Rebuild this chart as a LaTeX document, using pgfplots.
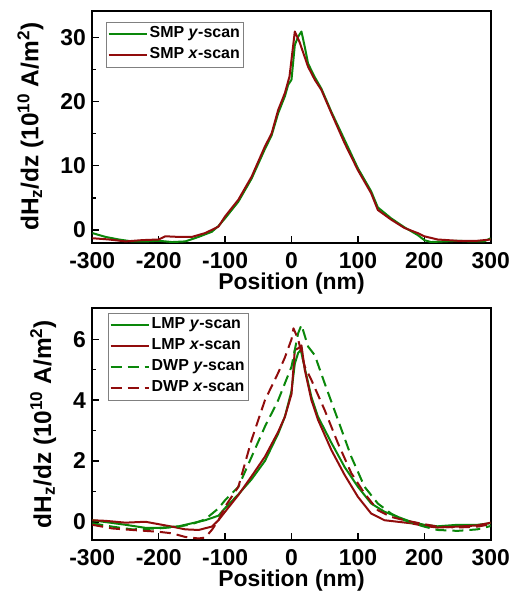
\documentclass[border=0pt]{standalone}
\usepackage{fontspec}
\setmainfont{Liberation Sans}
\usepackage{pgfplots}
\pgfplotsset{compat=1.18}
\definecolor{cgreen}{RGB}{10,135,10}
\definecolor{cred}{RGB}{145,12,12}
\pgfplotsset{mystyle/.style={
  scale only axis, width=398.4bp, height=231.7bp,
  xmin=-300, xmax=300, xtick={-300,-200,...,300},
  xticklabels={-300,-200,-100,0,100,200,300},
  axis line style={line width=2bp},
  tick style={line width=1.5bp, black},
  major tick length=7bp, minor tick length=4bp,
  tick align=inside, xtick pos=bottom, ytick pos=left,
  minor y tick num=1,
  /pgf/number format/assume math mode=true,
  ticklabel style={font=\fontsize{23}{23}\selectfont\bfseries},
  xticklabel style={yshift=-6bp},
  yticklabel style={xshift=-3bp},
  xlabel style={font=\fontsize{23}{23}\selectfont\bfseries, yshift=0bp, inner sep=0.5bp},
  ylabel style={font=\fontsize{24.5}{24.5}\selectfont\bfseries, yshift=10bp},
  xlabel={Position (nm)},
  ylabel={dH\textsubscript{z}/dz (10\textsuperscript{10} A/m\textsuperscript{2})},
  legend cell align=left,
  legend style={draw=gray, line width=0.8bp, font=\fontsize{16}{19}\selectfont\bfseries, inner sep=1.5bp, row sep=0bp,
    nodes={text height=12bp, text depth=5bp}},
  legend image code/.code={\draw[##1] (0bp,0bp) -- (38bp,0bp);},
  every axis plot/.append style={line width=2bp, line join=round},
}}
\begin{document}
\begin{tikzpicture}
\path[use as bounding box] (-92.3bp,-51bp) rectangle (420.7bp,540bp);
% top panel
\begin{axis}[mystyle, at={(0,297.3bp)}, anchor=south west,
  ymin=-2, ymax=34.1, ytick={0,10,20,30},
  legend style={at={(0.034,0.954)}, anchor=north west}]
\addplot[cgreen] coordinates {
(-300,-0.5) (-280,-1.1) (-260,-1.5) (-240,-1.8) (-220,-1.8) (-200,-1.7) (-180,-1.9) (-160,-1.8)
(-140,-1.1) (-120,-0.3) (-110,0.6) (-100,1.8) (-80,4.4) (-60,8.0) (-40,12.6) (-30,14.7)
(-20,18.2) (-10,20.8) (-5,22.6) (0,23.4) (5,28.8) (10,30.1) (15,30.9) (20,28.5) (25,25.9)
(35,23.8) (45,22) (60,18.4) (80,14) (100,9.6) (120,6) (130,3.5) (150,1.8) (170,0.4)
(190,-0.8) (200,-1.6) (210,-1.9) (230,-1.8) (250,-1.7) (270,-1.8) (290,-1.8) (300,-1.3)};
\addlegendentry{SMP \textit{y}-scan}
\addplot[cred] coordinates {
(-300,-1.3) (-275,-1.5) (-250,-1.8) (-225,-1.6) (-200,-1.5) (-190,-1.0) (-170,-1.1) (-150,-1.1)
(-130,-0.5) (-110,0.5) (-100,2.1) (-80,4.7) (-60,8.3) (-40,13) (-30,15) (-20,18.7)
(-10,21.3) (-3,23.9) (5,30.9) (12,29.3) (25,25.4) (35,23.4) (45,21.8) (60,18.2) (80,13.5)
(100,9.3) (120,5.7) (130,3.1) (150,1.6) (170,0.3) (190,-0.5) (200,-1.0) (220,-1.5)
(250,-1.7) (280,-1.7) (300,-1.5)};
\addlegendentry{SMP \textit{x}-scan}
\end{axis}
% bottom panel
\begin{axis}[mystyle, at={(0,0)}, anchor=south west,
  ymin=-0.6, ymax=7.02, ytick={0,2,4,6},
  legend style={at={(0.039,0.98)}, anchor=north west}]
\addplot[cgreen] coordinates {
(-300,0.05) (-250,-0.1) (-220,-0.2) (-200,-0.2) (-170,-0.15) (-150,-0.05) (-130,0.05)
(-110,0.2) (-100,0.45) (-80,0.9) (-60,1.4) (-40,2.0) (-20,2.9) (-10,3.45) (0,4.3) (5,5.2)
(10,5.55) (14,5.65) (20,5.05) (30,4.1) (40,3.45) (60,2.6) (80,1.8) (100,1.15) (120,0.6)
(140,0.33) (160,0.16) (180,0) (200,-0.1) (220,-0.15) (250,-0.1) (280,-0.1) (300,-0.05)};
\addlegendentry{LMP \textit{y}-scan}
\addplot[cred] coordinates {
(-300,0.05) (-280,0.03) (-250,-0.03) (-220,0) (-200,-0.08) (-180,-0.16) (-160,-0.25)
(-140,-0.27) (-120,-0.16) (-110,0.05) (-100,0.33) (-80,0.88) (-60,1.5) (-40,2.14)
(-20,2.96) (-10,3.45) (0,4.2) (5,5.65) (10,5.7) (15,5.8) (20,5.0) (30,4.0) (40,3.35)
(60,2.36) (80,1.54) (100,0.82) (120,0.27) (140,0.05) (160,0) (180,-0.05) (200,-0.14)
(220,-0.19) (250,-0.16) (280,-0.12) (300,-0.03)};
\addlegendentry{LMP \textit{x}-scan}
\addplot[cgreen, dash pattern=on 11bp off 6bp] coordinates {
(-300,-0.05) (-270,-0.16) (-240,-0.25) (-200,-0.22) (-170,-0.16) (-150,-0.08) (-130,0.08)
(-110,0.44) (-100,0.71) (-80,1.15) (-60,2.14) (-40,3.13) (-20,4.0) (0,5.1) (10,6.2)
(15,6.47) (25,5.76) (35,5.48) (50,4.55) (70,3.35) (90,2.14) (110,1.15) (130,0.6)
(150,0.27) (170,0.05) (200,-0.16) (220,-0.27) (250,-0.3) (280,-0.25) (300,-0.14)};
\addlegendentry{DWP \textit{y}-scan}
\addplot[cred, dash pattern=on 11bp off 6bp] coordinates {
(-300,-0.1) (-270,-0.22) (-240,-0.27) (-200,-0.33) (-180,-0.38) (-160,-0.5) (-140,-0.55)
(-130,-0.52) (-120,-0.27) (-110,0.05) (-100,0.5) (-80,1.15) (-60,2.7) (-40,4.0) (-20,4.9)
(-10,5.4) (0,6.0) (3,6.36) (10,6.0) (20,5.1) (30,4.66) (50,3.67) (70,2.58) (90,1.6)
(110,0.93) (130,0.38) (150,0.16) (170,0.05) (200,-0.08) (220,-0.16) (250,-0.19)
(280,-0.16) (300,-0.08)};
\addlegendentry{DWP \textit{x}-scan}
\end{axis}
\end{tikzpicture}
\end{document}
